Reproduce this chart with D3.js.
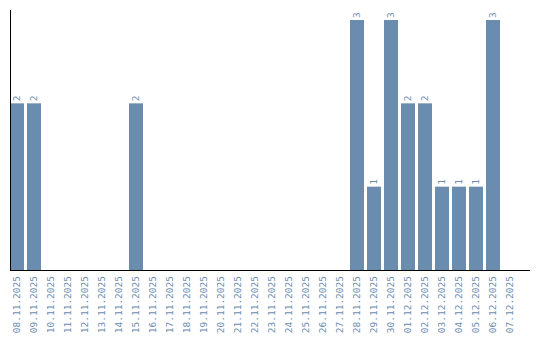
<!DOCTYPE html>
<html>
<head>
<meta charset="utf-8">
<script src="https://cdn.jsdelivr.net/npm/d3@7"></script>
<style>
  body { margin: 0; background: #fff; }
  svg text { font-family: "DejaVu Sans Mono", monospace; }
</style>
</head>
<body>
<div id="chart"></div>
<script>
const dates = ['08.11.2025', '09.11.2025', '10.11.2025', '11.11.2025', '12.11.2025', '13.11.2025',
  '14.11.2025', '15.11.2025', '16.11.2025', '17.11.2025', '18.11.2025', '19.11.2025', '20.11.2025',
  '21.11.2025', '22.11.2025', '23.11.2025', '24.11.2025', '25.11.2025', '26.11.2025', '27.11.2025',
  '28.11.2025', '29.11.2025', '30.11.2025', '01.12.2025', '02.12.2025', '03.12.2025', '04.12.2025',
  '05.12.2025', '06.12.2025', '07.12.2025'];
const counts = [2, 2, 0, 0, 0, 0, 0, 2, 0, 0, 0, 0, 0, 0, 0, 0, 0, 0, 0, 0,
  3, 1, 3, 2, 2, 1, 1, 1, 3, 0];

const W = 540, H = 340;
const margin = { top: 10, right: 10, bottom: 70, left: 10 };
const innerW = W - margin.left - margin.right;
const innerH = H - margin.top - margin.bottom;
const barColor = '#6a8caf';

const x = d3.scaleBand().domain(dates).range([0, 507]).paddingInner(3 / 17).paddingOuter(0);
const y = d3.scaleLinear().domain([0, 3.12]).range([innerH, 0]);

const svg = d3.select('#chart').append('svg').attr('width', W).attr('height', H);
const g = svg.append('g').attr('transform', `translate(${margin.left},${margin.top})`);

const rows = dates.map((d, i) => ({ date: d, value: counts[i] }));

g.selectAll('rect.bar')
  .data(rows.filter((d) => d.value > 0))
  .join('rect')
  .attr('class', 'bar')
  .attr('x', (d) => x(d.date))
  .attr('y', (d) => y(d.value))
  .attr('width', x.bandwidth())
  .attr('height', (d) => innerH - y(d.value))
  .attr('fill', barColor);

// value labels, rotated like the dates
g.selectAll('text.val')
  .data(rows.filter((d) => d.value > 0))
  .join('text')
  .attr('class', 'val')
  .attr('transform', (d) => `translate(${x(d.date) + x.bandwidth() / 2},${y(d.value) - 2}) rotate(-90)`)
  .attr('dy', '0.35em')
  .attr('text-anchor', 'start')
  .attr('fill', barColor)
  .style('font-size', '9.5px')
  .text((d) => d.value);

// x axis
const xAxis = g.append('g')
  .attr('transform', `translate(0,${innerH})`)
  .call(d3.axisBottom(x).tickSize(0).tickSizeOuter(0));
xAxis.select('.domain').attr('d', `M0,0.5H${innerW}`).attr('stroke', '#000');
xAxis.selectAll('text')
  .attr('fill', barColor)
  .style('font-size', '9.5px')
  .attr('text-anchor', 'end')
  .attr('transform', 'rotate(-90)')
  .attr('x', -6)
  .attr('y', 0)
  .attr('dy', '0.35em');

// y axis line only
g.append('g')
  .call(d3.axisLeft(y).tickValues([]).tickSizeOuter(0))
  .select('.domain').attr('d', `M0.5,0V${innerH}`).attr('stroke', '#000');
</script>
</body>
</html>
